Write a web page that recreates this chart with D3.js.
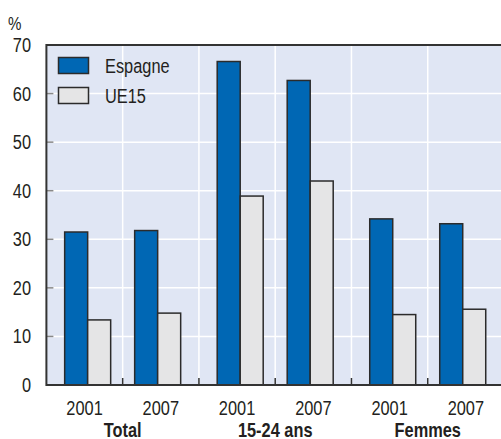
<!DOCTYPE html>
<html><head><meta charset="utf-8">
<script src="https://cdn.jsdelivr.net/npm/d3@7"></script>
<style>
body{margin:0;background:#fff;}
svg text{font-family:"Liberation Sans Narrow","Arial Narrow","Liberation Sans",Arial,sans-serif;fill:#231f20;}
</style></head>
<body><svg id="c" width="501" height="439"></svg>
<script>
const groups = ["Total", "15-24 ans", "Femmes"];
const years = ["2001", "2007"];
const seriesNames = ["Espagne", "UE15"];
const espagne = [31.5, 31.8, 66.6, 62.7, 34.2, 33.2];
const ue15 = [13.4, 14.8, 38.9, 42.0, 14.5, 15.6];
const yTicks = [0, 10, 20, 30, 40, 50, 60, 70];

const colors = {"Espagne": "#0067b4", "UE15": "#e5e5e6"};
const m = {left: 46.4, top: 45, right: 504, bottom: 385};
const svg = d3.select("#c");
const SX = 0.84; // condensed look

function label(sel, x, y, txt, opts = {}) {
  const t = sel.append("text")
    .attr("transform", `translate(${x},${y}) scale(${SX},1)`)
    .attr("font-size", opts.size || 19.5)
    .attr("text-anchor", opts.anchor || "start")
    .text(txt);
  if (opts.bold) t.attr("font-weight", "bold");
  if (opts.dy) t.attr("dy", opts.dy);
  return t;
}

const y = d3.scaleLinear().domain([0, 70]).range([m.bottom, m.top]);
const xMajor = d3.scaleBand().domain(groups).range([m.left, m.right]);
const cats = [];
groups.forEach(g => years.forEach(yr => cats.push(g + "|" + yr)));
const xCat = d3.scaleBand().domain(cats).range([m.left, m.right]);
const xYear = d3.scalePoint().domain(years).range([-35, 35]);
const xSer = d3.scaleBand().domain(seriesNames).range([-23, 23]);

svg.append("rect").attr("x", m.left).attr("y", m.top)
  .attr("width", m.right - m.left).attr("height", m.bottom - m.top).attr("fill", "#e0e6f4");

svg.append("g").selectAll("line").data(yTicks.slice(1, -1)).join("line")
  .attr("x1", m.left).attr("x2", m.right).attr("y1", d => y(d)).attr("y2", d => y(d))
  .attr("stroke", "#fff").attr("stroke-width", 1.5);
const vgrid = cats.slice(1).map(c => xCat(c));
svg.append("g").selectAll("line").data(vgrid).join("line")
  .attr("x1", d => d).attr("x2", d => d).attr("y1", m.top).attr("y2", m.bottom)
  .attr("stroke", "#fff").attr("stroke-width", 1.5);

svg.append("g").selectAll("line").data(yTicks.slice(1, -1)).join("line")
  .attr("x1", m.left).attr("x2", m.left + 7).attr("y1", d => y(d)).attr("y2", d => y(d))
  .attr("stroke", "#888").attr("stroke-width", 1.5);

const rows = [];
cats.forEach((c, i) => {
  const [g, yr] = c.split("|");
  rows.push({g, yr, s: "Espagne", v: espagne[i]});
  rows.push({g, yr, s: "UE15", v: ue15[i]});
});
const cx = d => xMajor(d.g) + xMajor.bandwidth() / 2 + xYear(d.yr);
svg.append("g").selectAll("rect").data(rows).join("rect")
  .attr("x", d => cx(d) + xSer(d.s))
  .attr("width", xSer.bandwidth())
  .attr("y", d => y(d.v))
  .attr("height", d => y(0) - y(d.v))
  .attr("fill", d => colors[d.s])
  .attr("stroke", "#2b2b2b").attr("stroke-width", 1.5);

svg.append("g").selectAll("line").data(vgrid).join("line")
  .attr("x1", d => d).attr("x2", d => d).attr("y1", m.bottom).attr("y2", m.bottom - 7)
  .attr("stroke", "#333").attr("stroke-width", 1.5);

svg.append("line").attr("x1", m.left).attr("x2", m.right).attr("y1", m.top).attr("y2", m.top)
  .attr("stroke", "#333").attr("stroke-width", 2);
svg.append("line").attr("x1", m.left).attr("x2", m.right).attr("y1", m.bottom).attr("y2", m.bottom)
  .attr("stroke", "#333").attr("stroke-width", 2);
svg.append("line").attr("x1", m.left).attr("x2", m.left).attr("y1", m.top - 1).attr("y2", m.bottom + 1)
  .attr("stroke", "#333").attr("stroke-width", 2);

const gy = svg.append("g");
yTicks.forEach(d => label(gy, 31, y(d), d, {anchor: "end", dy: "0.36em"}));
label(svg, 8, 30, "%", {size: 18});

const gx = svg.append("g");
cats.forEach(c => label(gx, xCat(c) + xCat.bandwidth() / 2, 415, c.split("|")[1], {anchor: "middle"}));
groups.forEach(g => label(gx, xMajor(g) + xMajor.bandwidth() / 2, 437, g, {anchor: "middle", bold: true}));

const lg = svg.append("g").selectAll("g").data(seriesNames).join("g")
  .attr("transform", (d, i) => `translate(58.5,${57.5 + i * 30})`);
lg.append("rect").attr("width", 30).attr("height", 16)
  .attr("fill", d => colors[d]).attr("stroke", "#2b2b2b").attr("stroke-width", 1.5);
lg.each(function(d) { label(d3.select(this), 46.5, 15, d); });
</script></body></html>
